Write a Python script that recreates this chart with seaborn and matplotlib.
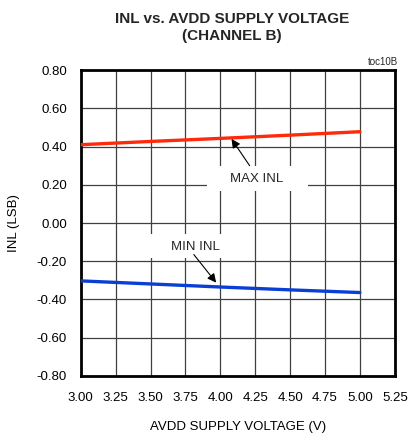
import numpy as np
import pandas as pd
import seaborn as sns
import matplotlib.pyplot as plt
from matplotlib.patches import Rectangle

# values
avdd = [3.0, 3.5, 4.0, 4.5, 5.0]
max_inl = [0.410, 0.427, 0.443, 0.460, 0.478]
min_inl = [-0.303, -0.319, -0.335, -0.350, -0.364]
x_ticks = [3.00, 3.25, 3.50, 3.75, 4.00, 4.25, 4.50, 4.75, 5.00, 5.25]
y_ticks = [-0.80, -0.60, -0.40, -0.20, 0.00, 0.20, 0.40, 0.60, 0.80]

df = pd.DataFrame({'avdd': avdd * 2,
                   'inl': max_inl + min_inl,
                   'series': ['MAX INL'] * len(avdd) + ['MIN INL'] * len(avdd)})

sns.set_theme(style="white")
plt.rcParams['font.family'] = ['Liberation Sans', 'DejaVu Sans']

fig = plt.figure(figsize=(4.10, 4.36), dpi=100)
ax = fig.add_axes([0.197, 0.138, 0.766, 0.701])

ax.set_xlim(3.0, 5.25)
ax.set_ylim(-0.8, 0.8)
ax.set_xticks(x_ticks)
ax.set_yticks(y_ticks)
ax.set_xticklabels(['%.2f' % v for v in x_ticks], fontsize=9.5, color='black')
ax.set_yticklabels(['%.2f' % v for v in y_ticks], fontsize=9.5, color='black')
ax.tick_params(axis='x', length=0, pad=12)
ax.tick_params(axis='y', length=0, pad=10)
ax.grid(True, color='#404040', linewidth=0.9)
ax.set_axisbelow(True)
for s in ax.spines.values():
    s.set_visible(True)
    s.set_color('black')
    s.set_linewidth(2)

sns.lineplot(data=df, x='avdd', y='inl', hue='series',
             palette={'MAX INL': '#ff2a0a', 'MIN INL': '#0a3fd6'},
             linewidth=2.4, legend=False, ax=ax, zorder=3)

# white label boxes that hide the grid
ax.add_patch(Rectangle((3.905, 0.17), 0.725, 0.13, fc='white', ec='none', zorder=2))
ax.add_patch(Rectangle((3.496, -0.183), 0.514, 0.126, fc='white', ec='none', zorder=2))
ax.text(4.26, 0.232, 'MAX INL', fontsize=9.5, ha='center', va='center', zorder=4)
ax.text(3.825, -0.124, 'MIN INL', fontsize=9.5, ha='center', va='center', zorder=4)

arrow = dict(arrowstyle='-|>', color='black', lw=0.8, mutation_scale=13, shrinkA=0, shrinkB=0)
ax.annotate('', xy=(4.08, 0.44), xytext=(4.21, 0.30), arrowprops=arrow, zorder=4)
ax.annotate('', xy=(3.97, -0.312), xytext=(3.81, -0.165), arrowprops=arrow, zorder=4)

ax.set_xlabel('AVDD SUPPLY VOLTAGE (V)', fontsize=9.5, labelpad=12, color='black')
ax.set_ylabel('INL (LSB)', fontsize=9.5, labelpad=12, color='black')

fig.text(0.565, 0.972, 'INL vs. AVDD SUPPLY VOLTAGE\n(CHANNEL B)', ha='center', va='top',
         fontsize=11, fontweight='bold', linespacing=1.25)
fig.text(0.97, 0.846, 'toc10B', ha='right', va='bottom', fontsize=7)

fig.savefig('out.png', dpi=100)
